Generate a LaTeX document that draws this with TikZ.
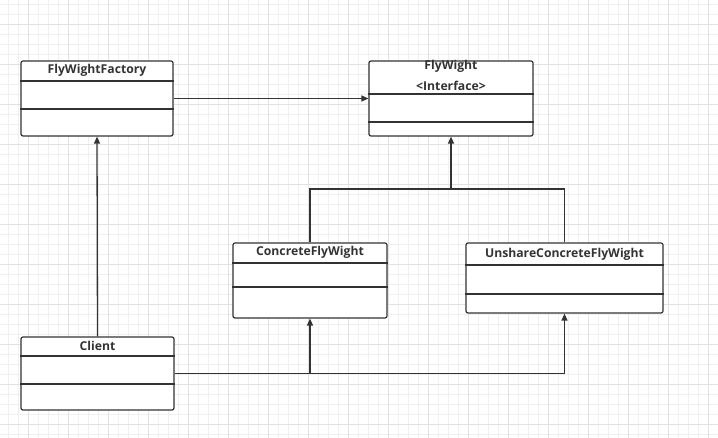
\documentclass[tikz,border=0pt]{standalone}
\usepackage{fontspec}
\setmainfont{Open Sans}
\usetikzlibrary{arrows.meta}
\definecolor{minorgrid}{HTML}{F0F0F0}
\definecolor{majorgrid}{HTML}{E2E2E2}
\definecolor{ink}{HTML}{333333}
\tikzset{
  cls/.style={draw=ink, line width=1.2pt, rounded corners=2pt, fill=white, inner sep=0pt},
  divider/.style={draw=ink, line width=1.2pt},
  title/.style={font=\fontsize{12.2}{14}\selectfont\bfseries, text=ink, inner sep=0pt},
  conn/.style={draw=ink, line width=1.3pt},
  arr/.style={conn, -{Triangle[length=7pt,width=6pt]}}
}
\begin{document}
\begin{tikzpicture}[x=1pt,y=-1pt]
\useasboundingbox (0,0) rectangle (718,438);
\fill[white] (0,0) rectangle (718,438);
% grid
\foreach \x in {8,18,...,718} \draw[minorgrid, line width=0.8pt] (\x,0) -- (\x,438);
\foreach \y in {4,14,...,438} \draw[minorgrid, line width=0.8pt] (0,\y) -- (718,\y);
\foreach \x in {28,68,...,718} \draw[majorgrid, line width=0.8pt] (\x,0) -- (\x,438);
\foreach \y in {24,64,...,438} \draw[majorgrid, line width=0.8pt] (0,\y) -- (718,\y);

% classes
\node[cls, minimum width=152pt, minimum height=75pt] (fac) at (97,98.5) {};
\node[cls, minimum width=164pt, minimum height=75pt] (fly) at (451,98.5) {};
\node[cls, minimum width=154pt, minimum height=75pt] (con) at (310,280.5) {};
\node[cls, minimum width=197pt, minimum height=70pt] (uns) at (564.5,278) {};
\node[cls, minimum width=153pt, minimum height=73pt] (cli) at (97.5,373.5) {};

% dividers
\draw[divider] (fac.west |- 0,81) -- (fac.east |- 0,81);
\draw[divider] (fac.west |- 0,109) -- (fac.east |- 0,109);
\draw[divider] (fly.west |- 0,94) -- (fly.east |- 0,94);
\draw[divider] (fly.west |- 0,122) -- (fly.east |- 0,122);
\draw[divider] (con.west |- 0,263) -- (con.east |- 0,263);
\draw[divider] (con.west |- 0,287) -- (con.east |- 0,287);
\draw[divider] (uns.west |- 0,265) -- (uns.east |- 0,265);
\draw[divider] (uns.west |- 0,294) -- (uns.east |- 0,294);
\draw[divider] (cli.west |- 0,356) -- (cli.east |- 0,356);
\draw[divider] (cli.west |- 0,384) -- (cli.east |- 0,384);

% titles
\node[title] (tfac) at (97,70) {FlyWightFactory};
\node[title] (tfly) at (451,66) {FlyWight};
\node[title, font=\fontsize{12.2}{14}\selectfont\bfseries] (tint) at (451,86) {<Interface>};
\node[title] (tcon) at (310,252) {ConcreteFlyWight};
\node[title] (tuns) at (564.5,254) {UnshareConcreteFlyWight};
\node[title] (tcli) at (97.5,345.5) {Client};

% connectors
\coordinate (j) at (451,189);
\draw[arr] (fac.east) -- (fly.west);
\draw[arr] (cli.north) -- (fac.south);
\draw[conn] (con.north) |- (j);
\draw[conn] (uns.north) |- (j);
\draw[arr] (j) -- (fly.south);
\draw[arr] (cli.east) -| (con.south);
\draw[arr] (cli.east) -| (uns.south);
\end{tikzpicture}
\end{document}
